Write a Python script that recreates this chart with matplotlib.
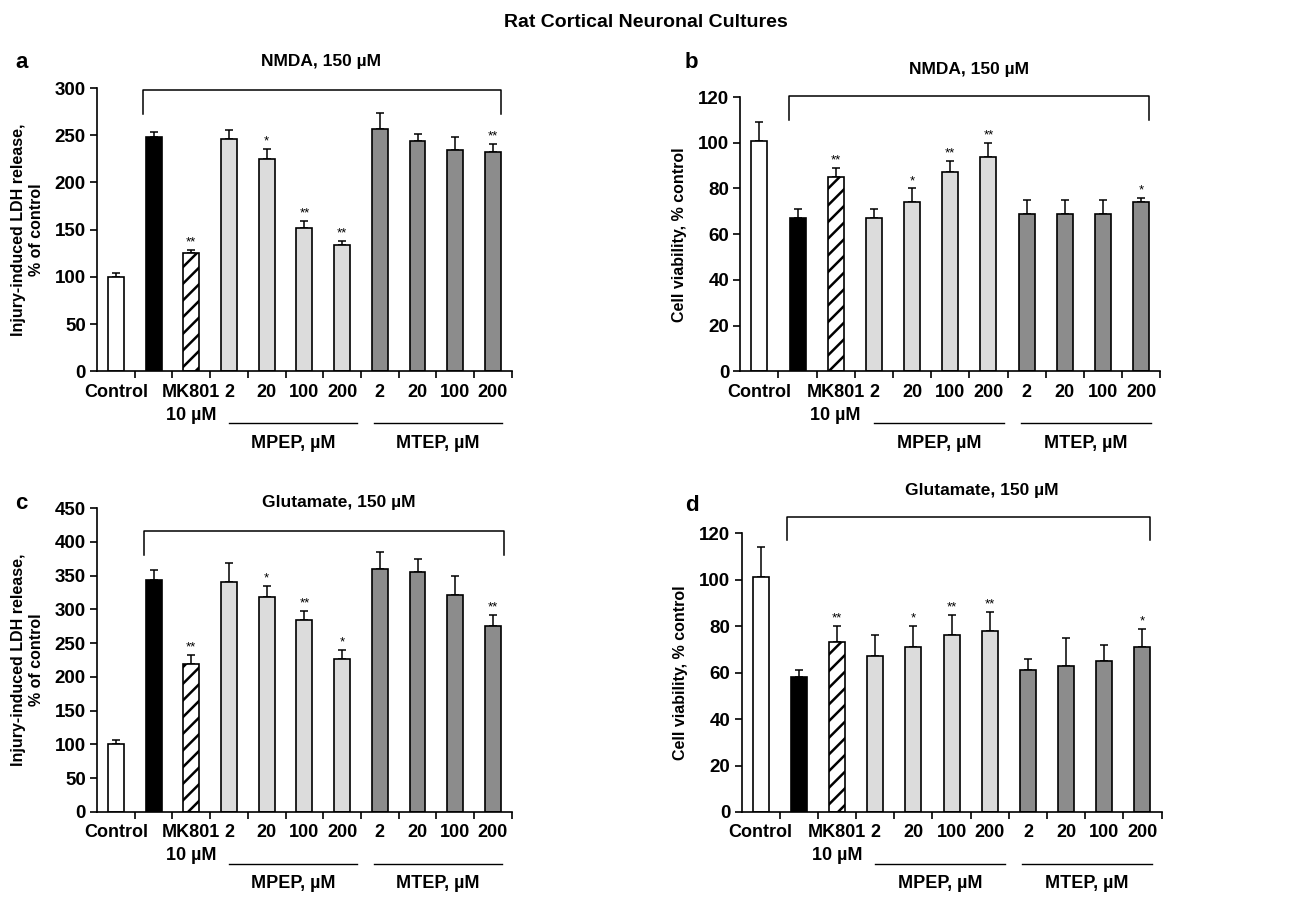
import numpy as np
import matplotlib
matplotlib.use('Agg')
import matplotlib.pyplot as plt
from matplotlib.transforms import offset_copy

plt.rcParams['font.family'] = ['Liberation Sans', 'DejaVu Sans']
plt.rcParams['font.weight'] = 'bold'
plt.rcParams['axes.labelweight'] = 'bold'
plt.rcParams['hatch.linewidth'] = 1.8

# categorias (11 barras): control, insulto solo, MK801, MPEP x4, MTEP x4
tick_labels = ['Control', '', 'MK801\n10 µM', '2', '20', '100', '200',
               '2', '20', '100', '200']
bar_colors = ['white', 'black', 'white'] + ['#dcdcdc'] * 4 + ['#8c8c8c'] * 4
group_names = ['MPEP, µM', 'MTEP, µM']

# a: LDH, NMDA
ldh_nmda = [100, 248, 125, 246, 225, 152, 134, 257, 244, 234, 232]
ldh_nmda_err = [4, 5, 4, 10, 11, 7, 4, 17, 7, 14, 9]
ldh_nmda_sig = ['', '', '**', '', '*', '**', '**', '', '', '', '**']

# b: viabilidad, NMDA
via_nmda = [101, 67, 85, 67, 74, 87, 94, 69, 69, 69, 74]
via_nmda_err = [8, 4, 4, 4, 6, 5, 6, 6, 6, 6, 2]
via_nmda_sig = ['', '', '**', '', '*', '**', '**', '', '', '', '*']

# c: LDH, glutamato
ldh_glu = [100, 343, 219, 341, 318, 284, 226, 360, 356, 321, 275]
ldh_glu_err = [7, 15, 14, 27, 17, 14, 14, 25, 19, 28, 17]
ldh_glu_sig = ['', '', '**', '', '*', '**', '*', '', '', '', '**']

# d: viabilidad, glutamato
via_glu = [101, 58, 73, 67, 71, 76, 78, 61, 63, 65, 71]
via_glu_err = [13, 3, 7, 9, 9, 9, 8, 5, 12, 7, 8]
via_glu_sig = ['', '', '**', '', '*', '**', '**', '', '', '', '*']

fig = plt.figure(figsize=(12.92, 8.99), dpi=100)
fig.text(0.5, 0.975, 'Rat Cortical Neuronal Cultures', ha='center', va='center',
         fontsize=14)


def panel(rect, vals, errs, sig, ymax, ystep, ylabel, title, title_pos,
          brk, letter, letter_pos):
    ax = fig.add_axes(rect)
    x = np.arange(len(vals))
    bars = ax.bar(x, vals, width=0.42, color=bar_colors, edgecolor='black',
                  linewidth=1.2, zorder=2)
    bars[2].set_hatch('//')
    ax.errorbar(x, vals, yerr=[np.zeros(len(errs)), errs], fmt='none',
                ecolor='black', elinewidth=1.1, capsize=3, capthick=1.1,
                zorder=1)
    for xi, v, e, s in zip(x, vals, errs, sig):
        if s:
            ax.annotate(s, (xi, v + e), xytext=(0, 1), textcoords='offset points',
                        ha='center', va='bottom', fontsize=9.5, fontweight='normal')
    ax.set_xlim(-0.5, 10.5)
    ax.set_ylim(0, ymax)
    ax.set_yticks(np.arange(0, ymax + 1, ystep))
    ax.set_xticks(x)
    ax.set_xticklabels(tick_labels)
    for lab in ax.get_xticklabels():
        lab.set_linespacing(1.45)
    ax.set_xticks(np.arange(0.5, 10.6, 1), minor=True)
    ax.tick_params(axis='x', which='major', length=0, pad=9, labelsize=13)
    ax.tick_params(axis='x', which='minor', length=5, width=1.2, direction='out')
    ax.tick_params(axis='y', length=5, width=1.2, labelsize=13.5, pad=3)
    for sp in ['top', 'right']:
        ax.spines[sp].set_visible(False)
    for sp in ['left', 'bottom']:
        ax.spines[sp].set_linewidth(1.2)
    ax.set_ylabel(ylabel, fontsize=11.5, labelpad=8)

    # corchete sobre los tratamientos con insulto
    x0, x1, ytop, ybot = brk
    ax.plot([x0, x0, x1, x1], [ybot, ytop, ytop, ybot], color='black', lw=1.1,
            clip_on=False)
    ax.text(title_pos[0], title_pos[1], title, ha='center', va='center',
            fontsize=12.5)

    # lineas de grupo bajo el eje
    tline = offset_copy(ax.get_xaxis_transform(), fig=fig, y=-52, units='dots')
    ttext = offset_copy(ax.get_xaxis_transform(), fig=fig, y=-72, units='dots')
    for (g0, g1), name in zip([(3.0, 6.4), (6.85, 10.25)], group_names):
        ax.plot([g0, g1], [0, 0], color='black', lw=1, transform=tline,
                clip_on=False)
        ax.text((g0 + g1) / 2, 0, name, transform=ttext, ha='center',
                va='center', fontsize=13)
    fig.text(letter_pos[0], letter_pos[1], letter, fontsize=16, ha='left',
             va='center')
    return ax


panel([0.0751, 0.587, 0.321, 0.315], ldh_nmda, ldh_nmda_err, ldh_nmda_sig,
      300, 50, 'Injury-induced LDH release,\n% of control', 'NMDA, 150 µM',
      (5.45, 328), (0.72, 10.22, 298, 273), 'a', (0.012, 0.931))
panel([0.573, 0.587, 0.325, 0.305], via_nmda, via_nmda_err, via_nmda_sig,
      120, 20, 'Cell viability, % control', 'NMDA, 150 µM',
      (5.5, 132), (0.78, 10.2, 120.3, 110), 'b', (0.530, 0.931))
panel([0.0751, 0.0968, 0.321, 0.338], ldh_glu, ldh_glu_err, ldh_glu_sig,
      450, 50, 'Injury-induced LDH release,\n% of control', 'Glutamate, 150 µM',
      (5.9, 459), (0.74, 10.3, 416, 380), 'c', (0.012, 0.44))
panel([0.574, 0.0968, 0.325, 0.310], via_glu, via_glu_err, via_glu_sig,
      120, 20, 'Cell viability, % control', 'Glutamate, 150 µM',
      (5.8, 138.5), (0.69, 10.2, 127, 117), 'd', (0.530, 0.438))

fig.savefig('out.png', dpi=100)
